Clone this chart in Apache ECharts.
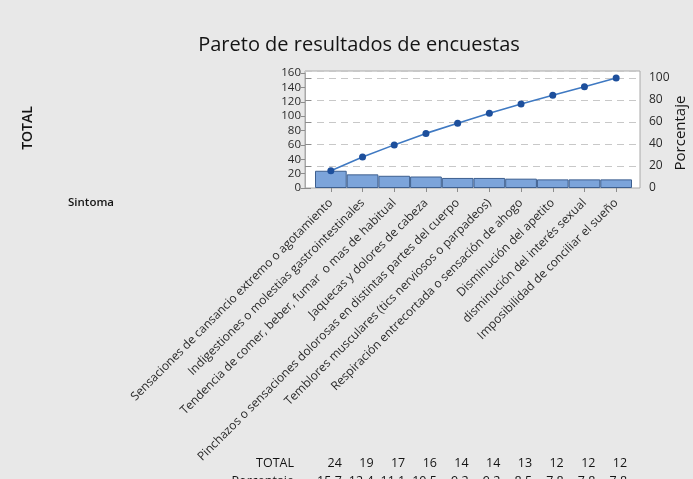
<!DOCTYPE html>
<html>
<head>
<meta charset="utf-8">
<script src="https://cdn.jsdelivr.net/npm/echarts@6/dist/echarts.min.js"></script>
<style>
  html, body { margin: 0; padding: 0; background: #e8e8e8; }
  #chart { width: 693px; height: 479px; }
</style>
</head>
<body>
<div id="chart"></div>
<script>
// Síntomas ordenados de mayor a menor frecuencia
const categories = [
  'Sensaciones de cansancio extremo o agotamiento',
  'Indigestiones o molestias gastrointestinales',
  'Tendencia de comer, beber, fumar  o mas de habitual',
  'Jaquecas y dolores de cabeza',
  'Pinchazos o sensaciones dolorosas en distintas partes del cuerpo',
  'Temblores musculares (tics nerviosos o parpadeos)',
  'Respiración entrecortada o sensación de ahogo',
  'Disminución del apetito',
  'disminución del interés sexual',
  'Imposibilidad de conciliar el sueño'
];
const totals = [24, 19, 17, 16, 14, 14, 13, 12, 12, 12];
const percents = [15.7, 12.4, 11.1, 10.5, 9.2, 9.2, 8.5, 7.8, 7.8, 7.8];
const countTicks = [0, 20, 40, 60, 80, 100, 120, 140, 160];
const percentTicks = [0, 20, 40, 60, 80, 100];

const grandTotal = totals.reduce((a, b) => a + b, 0);
const cumulative = [];
totals.reduce((acc, v) => { cumulative.push(acc + v); return acc + v; }, 0);

// Plot box geometry
const BOX_LEFT = 305, BOX_RIGHT = 640, BOX_TOP = 71, BOX_BOTTOM = 188;
const BAR_LEFT = 315, BAR_RIGHT = 632;
const PCT_MAX = 106.4;                       // percent at top of box
const COUNT_MAX = grandTotal * PCT_MAX / 100; // count at top of box
const boxH = BOX_BOTTOM - BOX_TOP;
const pxPerCount = boxH / COUNT_MAX;
const pxPerPct = boxH / PCT_MAX;
const countTop = BOX_BOTTOM - countTicks[countTicks.length - 1] * pxPerCount;
const pctTop = BOX_BOTTOM - percentTicks[percentTicks.length - 1] * pxPerPct;

const FONT = 'Open Sans';
const chart = echarts.init(document.getElementById('chart'));

const hiddenX = (i) => ({ type: 'value', gridIndex: i, show: false, min: 0, max: 1 });

chart.setOption({
  backgroundColor: '#e8e8e8',
  animation: false,
  textStyle: { fontFamily: FONT },
  title: {
    text: 'Pareto de resultados de encuestas',
    left: 354, top: 30, textAlign: 'center',
    textStyle: { fontFamily: FONT, fontSize: 20, fontWeight: 'normal', color: '#141414' }
  },
  grid: [
    { left: BOX_LEFT, top: BOX_TOP, width: BOX_RIGHT - BOX_LEFT, height: boxH,
      show: true, backgroundColor: '#ffffff', borderColor: '#a8a8a8', borderWidth: 1 },
    { left: BOX_LEFT, top: countTop, width: BOX_RIGHT - BOX_LEFT, height: BOX_BOTTOM - countTop },
    { left: BOX_LEFT, top: pctTop, width: BOX_RIGHT - BOX_LEFT, height: BOX_BOTTOM - pctTop },
    { left: BAR_LEFT, top: BOX_TOP, width: BAR_RIGHT - BAR_LEFT, height: boxH }
  ],
  xAxis: [
    hiddenX(0), hiddenX(1), hiddenX(2),
    {
      type: 'category', gridIndex: 3, data: categories,
      axisLine: { show: false },
      axisTick: { show: true, alignWithLabel: true, length: 4, lineStyle: { color: '#8c8c8c' } },
      axisLabel: { interval: 0, rotate: 45, fontSize: 12, color: '#2a2a2a', margin: 13, fontFamily: FONT }
    }
  ],
  yAxis: [
    { // dashed reference lines across the box
      type: 'value', gridIndex: 0, min: 0, max: PCT_MAX, interval: 20,
      axisLine: { show: false }, axisTick: { show: false }, axisLabel: { show: false },
      splitLine: { show: true, lineStyle: { color: '#c8c8c8', type: [7, 5], width: 1 } }
    },
    { // counts
      type: 'value', gridIndex: 1, position: 'left', min: 0, max: countTicks[countTicks.length - 1], interval: 20,
      axisLine: { show: true, lineStyle: { color: '#a8a8a8' } },
      axisTick: { show: true, length: 4, lineStyle: { color: '#8c8c8c' } },
      axisLabel: { fontSize: 11.5, color: '#2a2a2a', margin: 4, fontFamily: FONT },
      splitLine: { show: false }
    },
    { // cumulative percent
      type: 'value', gridIndex: 2, position: 'right', min: 0, max: percentTicks[percentTicks.length - 1], interval: 20,
      axisLine: { show: false },
      axisTick: { show: true, length: 6, lineStyle: { color: '#8c8c8c' } },
      axisLabel: { fontSize: 12, color: '#2a2a2a', margin: 9, fontFamily: FONT },
      splitLine: { show: false },
      name: 'Porcentaje', nameLocation: 'middle', nameRotate: 90, nameGap: 31,
      nameTextStyle: { fontSize: 15, color: '#141414', fontFamily: FONT }
    },
    { type: 'value', gridIndex: 3, show: false, min: 0, max: COUNT_MAX }
  ],
  series: [
    {
      type: 'bar', xAxisIndex: 3, yAxisIndex: 3, data: totals,
      barCategoryGap: '0%',
      itemStyle: { color: '#7ca4da', borderColor: '#3d5f8f', borderWidth: 1 }
    },
    {
      type: 'line', xAxisIndex: 3, yAxisIndex: 3, data: cumulative,
      symbol: 'circle', symbolSize: 7,
      itemStyle: { color: '#1d4f9c' },
      lineStyle: { color: '#3f79c2', width: 1.6 }
    }
  ]
});

// Side texts and the summary table under the categories
const graphics = [
  { type: 'text', x: 28, y: 128, rotation: Math.PI / 2,
    style: { text: 'TOTAL', font: '600 14px "' + FONT + '"', fill: '#141414', textAlign: 'center', textVerticalAlign: 'middle' } },
  { type: 'text', x: 68, y: 203,
    style: { text: 'Sintoma', font: '600 11.5px "' + FONT + '"', fill: '#141414', textAlign: 'left', textVerticalAlign: 'middle' } },
  { type: 'text', x: 294, y: 463,
    style: { text: 'TOTAL', font: '12.5px "' + FONT + '"', fill: '#141414', textAlign: 'right', textVerticalAlign: 'middle' } },
  { type: 'text', x: 294, y: 481,
    style: { text: 'Porcentaje', font: '12.5px "' + FONT + '"', fill: '#141414', textAlign: 'right', textVerticalAlign: 'middle' } }
];
categories.forEach((c, i) => {
  const cx = chart.convertToPixel({ xAxisIndex: 3 }, i) + 11;
  graphics.push({ type: 'text', x: cx, y: 463,
    style: { text: String(totals[i]), font: '12.5px "' + FONT + '"', fill: '#141414', textAlign: 'right', textVerticalAlign: 'middle' } });
  graphics.push({ type: 'text', x: cx, y: 481,
    style: { text: percents[i].toFixed(1), font: '12.5px "' + FONT + '"', fill: '#141414', textAlign: 'right', textVerticalAlign: 'middle' } });
});
chart.setOption({ graphic: graphics });
</script>
</body>
</html>
